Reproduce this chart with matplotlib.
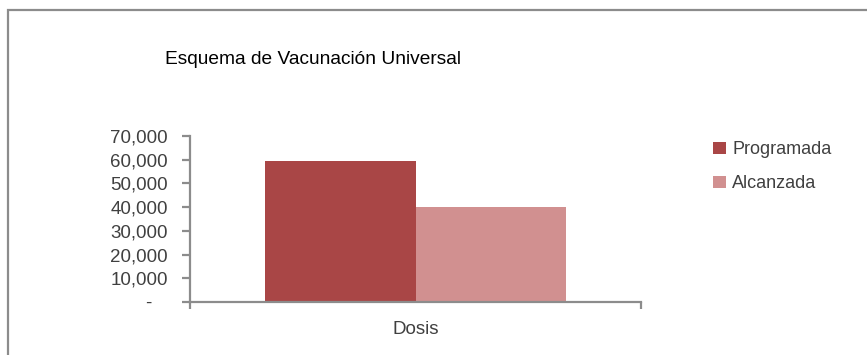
import matplotlib.pyplot as plt
from matplotlib.patches import Rectangle
import numpy as np

# Datos del esquema de vacunación
categorias = ["Dosis"]
programada = [59600]
alcanzada = [40100]
series = ["Programada", "Alcanzada"]
y_ticks = [0, 10000, 20000, 30000, 40000, 50000, 60000, 70000]

plt.rcParams['font.family'] = ['Liberation Sans', 'DejaVu Sans']

W, H = 867, 355
fig = plt.figure(figsize=(W / 100, H / 100), dpi=100)

# marco del área del gráfico
fig.patches.append(Rectangle((8 / W, -0.2), 1.2, (H - 10) / H + 0.2,
                             transform=fig.transFigure, fill=False,
                             edgecolor='#8c8c8c', linewidth=1.6))

ax = fig.add_axes([190 / W, 1 - 302 / H, (641 - 190) / W, (302 - 136) / H])

x = np.arange(len(categorias))
bw = 1 / 3
b1 = ax.bar(x - bw / 2, programada, width=bw, color='#a94646', label=series[0])
b2 = ax.bar(x + bw / 2, alcanzada, width=bw, color='#d19090', label=series[1])

ax.set_xlim(-0.5, 0.5)
ax.set_ylim(0, 70000)
ax.set_yticks(y_ticks)
ax.set_yticklabels([f"{v:,.0f}" if v else "-   " for v in y_ticks])
ax.set_xticks(x)
ax.set_xticklabels(categorias)
ax.set_xticks([-0.5, 0.5], minor=True)

for s in ['top', 'right']:
    ax.spines[s].set_visible(False)
for s in ['left', 'bottom']:
    ax.spines[s].set_color('#8c8c8c')
    ax.spines[s].set_linewidth(1.6)

ax.tick_params(axis='y', length=6, width=1.6, color='#8c8c8c',
               labelsize=13.5, labelcolor='#404040', pad=10)
ax.tick_params(axis='x', which='major', length=0, labelsize=13.5,
               labelcolor='#404040', pad=14)
ax.tick_params(axis='x', which='minor', length=5, width=1.6, color='#8c8c8c')

fig.text(165 / W, 1 - 60 / H, "Esquema de Vacunación Universal",
         fontsize=13.8, color='black', va='center', ha='left')

fig.legend(handles=[b1, b2], loc='upper left',
           bbox_to_anchor=(697 / W, 1 - 125 / H), frameon=False,
           fontsize=13, handlelength=0.7, handleheight=0.7,
           handletextpad=0.35, labelspacing=0.95, labelcolor='#404040')

fig.savefig("out.png", dpi=100)
